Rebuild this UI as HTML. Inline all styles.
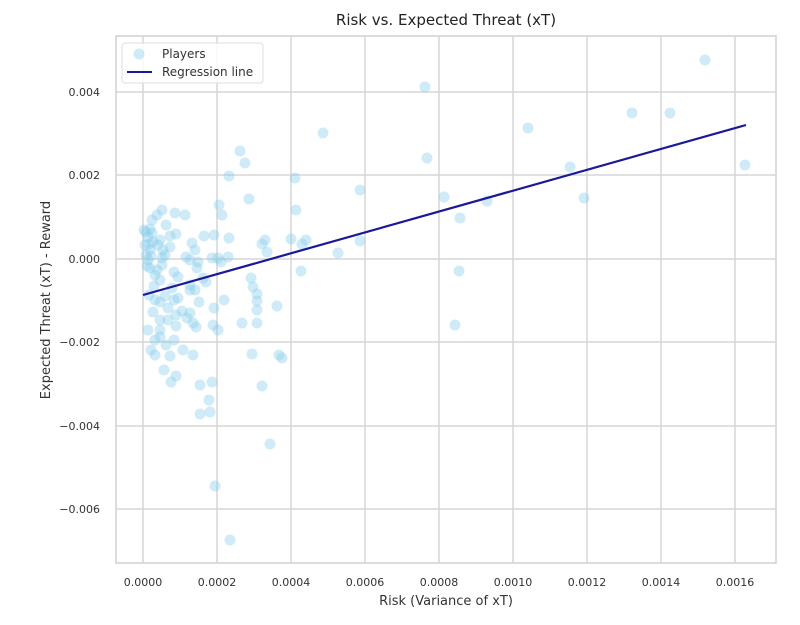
<!DOCTYPE html>
<html><head><meta charset="utf-8"><style>
html,body{margin:0;padding:0;background:#fff;}
svg{display:block;font-family:"DejaVu Sans","Liberation Sans",sans-serif;}
</style></head><body>
<svg width="800" height="625" viewBox="0 0 800 625">
<rect x="116" y="36" width="660" height="527" fill="#fff" stroke="#d0d0d0" stroke-width="1.5"/>
<g stroke="#d6d6d6" stroke-width="1.5">
<line x1="143" y1="36" x2="143" y2="563"/><line x1="217" y1="36" x2="217" y2="563"/>
<line x1="291" y1="36" x2="291" y2="563"/><line x1="365" y1="36" x2="365" y2="563"/>
<line x1="439" y1="36" x2="439" y2="563"/><line x1="513" y1="36" x2="513" y2="563"/>
<line x1="587" y1="36" x2="587" y2="563"/><line x1="661" y1="36" x2="661" y2="563"/>
<line x1="735" y1="36" x2="735" y2="563"/>
<line x1="116" y1="92" x2="776" y2="92"/><line x1="116" y1="175" x2="776" y2="175"/>
<line x1="116" y1="259" x2="776" y2="259"/><line x1="116" y1="342" x2="776" y2="342"/>
<line x1="116" y1="426" x2="776" y2="426"/><line x1="116" y1="509" x2="776" y2="509"/>
</g>
<g fill="#87CEEB" fill-opacity="0.4" id="pts"></g>
<line x1="143" y1="295" x2="746" y2="125" stroke="#1a1a96" stroke-width="2.2"/>
<g font-size="11" fill="#333" text-anchor="middle">
<text x="143" y="586">0.0000</text><text x="217" y="586">0.0002</text><text x="291" y="586">0.0004</text>
<text x="365" y="586">0.0006</text><text x="439" y="586">0.0008</text><text x="513" y="586">0.0010</text>
<text x="587" y="586">0.0012</text><text x="661" y="586">0.0014</text><text x="735" y="586">0.0016</text>
</g>
<g font-size="11" fill="#333" text-anchor="end">
<text x="100" y="96">0.004</text><text x="100" y="179">0.002</text><text x="100" y="263">0.000</text>
<text x="100" y="346">−0.002</text><text x="100" y="430">−0.004</text><text x="100" y="513">−0.006</text>
</g>
<text x="446" y="605" font-size="13" fill="#333" text-anchor="middle">Risk (Variance of xT)</text>
<text transform="translate(50,300) rotate(-90)" font-size="13" fill="#333" text-anchor="middle">Expected Threat (xT) - Reward</text>
<text x="446" y="25" font-size="15" fill="#222" text-anchor="middle">Risk vs. Expected Threat (xT)</text>
<rect x="122" y="43" width="141" height="40" rx="3" fill="#fff" fill-opacity="0.85" stroke="#ddd"/>
<circle cx="139" cy="54" r="5.5" fill="#87CEEB" fill-opacity="0.4"/>
<line x1="127" y1="72" x2="152" y2="72" stroke="#1a1a96" stroke-width="2"/>
<text x="162" y="58" font-size="12" fill="#333">Players</text>
<text x="162" y="76" font-size="12" fill="#333">Regression line</text>
</svg>
<script>
var p=[[745,165],[705,60],[670,113],[632,113],[528,128],[425,87],[427,158],[323,133],[570,167],[584,198],[487,201],[444,197],[460,218],[459,271],[455,325],[360,190],[360,241],[338,253],[295,178],[296,210],[302,244],[301,271],[306,240],[291,239],[240,151],[245,163],[229,176],[249,199],[219,205],[222,215],[214,235],[229,238],[218,258],[221,262],[228,257],[265,240],[262,244],[267,252],[282,358],[279,355],[277,306],[270,444],[262,386],[252,354],[257,323],[251,278],[253,287],[257,294],[257,301],[257,310],[242,323],[214,308],[209,400],[215,486],[230,540],[218,330],[213,325],[224,300],[210,412],[200,385],[193,355],[196,327],[190,313],[176,326],[190,285],[206,282],[197,268],[203,278],[178,277],[174,272],[186,257],[162,210],[175,213],[185,215],[157,215],[166,225],[170,236],[176,234],[190,260],[172,288],[165,296],[174,300],[168,320],[155,300],[153,312],[160,320],[160,330],[155,340],[151,350],[148,330],[160,280],[155,275],[150,268],[157,270],[162,265],[162,258],[148,260],[146,255],[150,250],[145,245],[148,237],[152,233],[150,229],[153,242],[158,245],[163,250],[165,255],[170,247],[160,240],[152,220],[160,302],[168,308],[176,315],[182,311],[187,318],[193,323],[199,302],[195,290],[178,298],[164,370],[170,356],[155,355],[174,340],[183,350],[166,345],[176,376],[190,290],[195,250],[192,243],[204,236],[212,258],[198,262],[200,414],[212,382],[171,382],[160,337],[146,232],[149,244],[151,256],[147,266],[154,286],[149,295],[144,230]];
var g=document.getElementById('pts'),s='';
p.forEach(function(a){s+='<circle cx="'+a[0]+'" cy="'+a[1]+'" r="5.5"/>';});
g.innerHTML=s;
</script>
</body></html>
